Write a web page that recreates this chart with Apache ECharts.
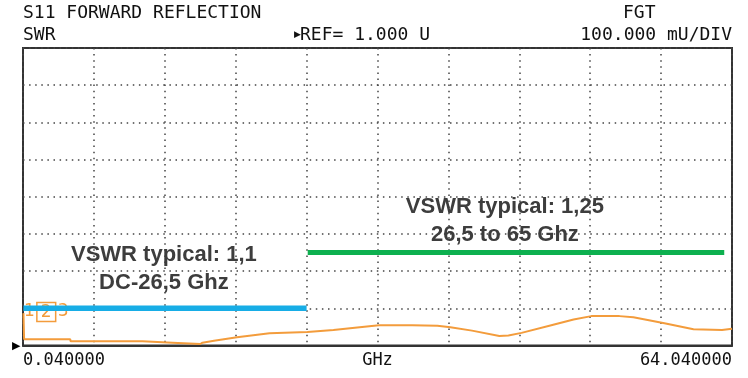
<!DOCTYPE html>
<html>
<head>
<meta charset="utf-8">
<script src="https://cdn.jsdelivr.net/npm/echarts@6/dist/echarts.min.js"></script>
<style>html,body{margin:0;padding:0;background:#fff;}#c{width:748px;height:378px;}</style>
</head>
<body>
<div id="c"></div>
<script>
// ---- data ----
var headerTexts = ['S11 FORWARD REFLECTION', 'SWR', 'REF= 1.000 U', 'FGT', '100.000 mU/DIV'];
var xTickLabels = ['0.040000', 'GHz', '64.040000'];   // start, centre, stop
var xMin = 0, xMax = 64, xDiv = 6.4;                   // GHz
var yMin = 1.0, yMax = 1.8, yDiv = 0.1;                // SWR units
// measured S11 SWR trace: [GHz, SWR]
var traceFreq = [0.04, 0.1, 4.26, 4.3, 10.78, 10.8, 13.49, 13.5, 16.0, 16.2, 17.24, 19.32, 22.25, 25.67, 28.02, 29.74, 32.13, 35.13, 37.41, 38.58, 40.53, 43.0, 43.82, 45.0, 47.6, 49.7, 51.3, 53.84, 55.1, 57.9, 60.52, 63.1, 63.2, 64.0];
var traceSwr  = [1.087, 1.0166, 1.0167, 1.0113, 1.0113, 1.0075, 1.0075, 1.004, 1.004, 1.0075, 1.0129, 1.022, 1.0328, 1.0363, 1.0417, 1.047, 1.0543, 1.0543, 1.053, 1.049, 1.040, 1.0255, 1.027, 1.034, 1.054, 1.070, 1.079, 1.079, 1.076, 1.060, 1.0435, 1.0417, 1.045, 1.045];
// typical VSWR limit lines
var band1Freq = [0.04, 25.6], band1Swr = 1.1;
var band2Freq = [25.7, 63.3], band2Swr = 1.25;
// annotations
var note1Text = 'VSWR typical: 1,1\nDC-26,5 Ghz', note1Pos = [12.72, 1.206];
var note2Text = 'VSWR typical: 1,25\n26,5 to 65 Ghz', note2Pos = [43.5, 1.334];
var markerPos = [2.1, 1.09];

var traceData = traceFreq.map(function (f, i) { return [f, traceSwr[i]]; });

var chart = echarts.init(document.getElementById('c'), null, {renderer: 'canvas'});
var mono = 'DejaVu Sans Mono';
var orange = '#F39C3C';
chart.setOption({
  animation: false,
  backgroundColor: '#fff',
  grid: {left: 23, right: 16, top: 48, bottom: 32.5, show: true, borderColor: '#333', borderWidth: 2, backgroundColor: 'transparent'},
  xAxis: {
    type: 'value', min: xMin, max: xMax, interval: xDiv,
    axisLine: {show: true, lineStyle: {color: '#333', width: 2}},
    axisTick: {show: false},
    splitLine: {show: true, lineStyle: {color: '#444', width: 1.5, type: [1.5, 4.6]}},
    axisLabel: {
      show: true, margin: 7, color: '#111', fontFamily: mono, fontSize: 17,
      alignMinLabel: 'left', alignMaxLabel: 'right',
      formatter: function (v) {
        if (Math.abs(v - xMin) < 1e-6) return xTickLabels[0];
        if (Math.abs(v - (xMin + xMax) / 2) < 1e-6) return xTickLabels[1];
        if (Math.abs(v - xMax) < 1e-6) return xTickLabels[2];
        return '';
      }
    }
  },
  yAxis: {
    type: 'value', min: yMin, max: yMax, interval: yDiv,
    axisLine: {show: false}, axisTick: {show: false},
    splitLine: {show: true, lineStyle: {color: '#444', width: 1.5, type: [1.5, 4.6]}},
    axisLabel: {
      show: true, margin: 3, color: '#000', fontSize: 11,
      formatter: function (v) { return Math.abs(v - yMin) < 1e-6 ? '\u25B6' : ''; }
    }
  },
  graphic: [
    {type: 'text', left: 23, top: 4, style: {text: headerTexts[0], font: '18px "DejaVu Sans Mono"', fill: '#111'}},
    {type: 'text', left: 23, top: 26, style: {text: headerTexts[1], font: '18px "DejaVu Sans Mono"', fill: '#111'}},
    {type: 'text', left: 294, top: 30, style: {text: '\u25B6', font: '9px "DejaVu Sans"', fill: '#111'}},
    {type: 'text', left: 300, top: 26, style: {text: headerTexts[2], font: '18px "DejaVu Sans Mono"', fill: '#111'}},
    {type: 'text', left: 623, top: 4, style: {text: headerTexts[3], font: '18px "DejaVu Sans Mono"', fill: '#111'}},
    {type: 'text', right: 16, top: 26, style: {text: headerTexts[4], font: '18px "DejaVu Sans Mono"', fill: '#111'}}
  ],
  series: [
    {type: 'scatter', symbolSize: 0, z: 2, itemStyle: {opacity: 1},
      label: {show: true, position: 'inside', opacity: 1,
        formatter: '{n|1}{b|2}{n|3}',
        rich: {
          n: {color: orange, fontFamily: 'DejaVu Sans', fontSize: 17, padding: [0, 2, 0, 2]},
          b: {color: orange, fontFamily: 'DejaVu Sans', fontSize: 17, borderColor: orange, borderWidth: 1.5, padding: [2, 4, 0, 4]}
        }
      },
      data: [{name: 'markers', value: markerPos}]
    },
    {type: 'line', data: traceData, showSymbol: false, lineStyle: {color: orange, width: 2}, z: 3},
    {type: 'line', data: band1Freq.map(function (f) { return [f, band1Swr]; }), showSymbol: false, lineStyle: {color: '#17ADE6', width: 5.5}, z: 4},
    {type: 'line', data: band2Freq.map(function (f) { return [f, band2Swr]; }), showSymbol: false, lineStyle: {color: '#0DB04F', width: 5}, z: 4},
    {type: 'scatter', symbolSize: 0, z: 5, itemStyle: {opacity: 1},
      label: {show: true, position: 'inside', opacity: 1, formatter: '{b}', color: '#3d3d3d', fontFamily: 'Liberation Sans', fontWeight: 'bold', fontSize: 22, lineHeight: 28},
      data: [{name: note1Text, value: note1Pos}, {name: note2Text, value: note2Pos}]
    }
  ]
});
</script>
</body>
</html>
